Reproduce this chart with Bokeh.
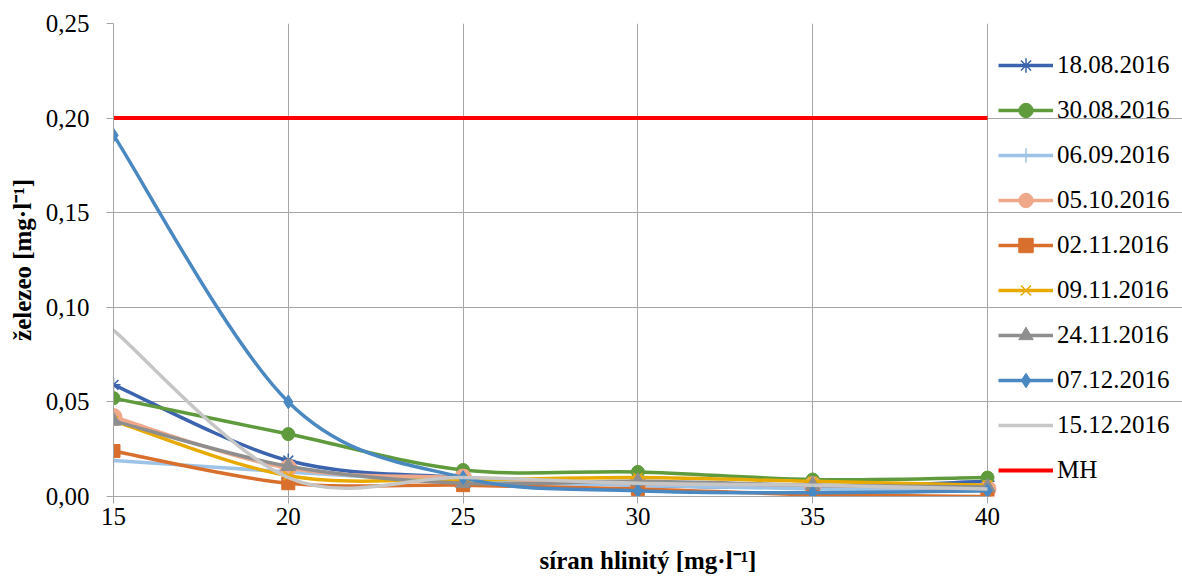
from bokeh.plotting import figure
from bokeh.models import (Legend, LegendItem, FixedTicker, CustomJSTickFormatter,
                          ColumnDataSource, Range1d)
from bokeh.embed import file_html
from bokeh.resources import INLINE

# ---- data ----
x_vals = [15, 20, 25, 30, 35, 40]
series_names = ["18.08.2016", "30.08.2016", "06.09.2016", "05.10.2016", "02.11.2016",
                "09.11.2016", "24.11.2016", "07.12.2016", "15.12.2016"]
s_18_08 = [0.059, 0.019, 0.010, 0.006, 0.005, 0.008]
s_30_08 = [0.052, 0.033, 0.014, 0.013, 0.009, 0.010]
s_06_09 = [0.019, 0.013, 0.008, 0.006, 0.004, 0.003]
s_05_10 = [0.042, 0.015, 0.010, 0.007, 0.006, 0.004]
s_02_11 = [0.024, 0.007, 0.006, 0.004, 0.001, 0.000]
s_09_11 = [0.040, 0.011, 0.009, 0.010, 0.008, 0.006]
s_24_11 = [0.040, 0.016, 0.007, 0.008, 0.006, 0.005]
s_07_12 = [0.191, 0.050, 0.010, 0.003, 0.002, 0.003]
s_15_12 = [0.088, 0.010, 0.010, 0.007, 0.006, 0.004]
mh_vals = [0.20, 0.20]
mh_x = [15, 40]
x_ticks = [15, 20, 25, 30, 35, 40]
y_ticks = [0.0, 0.05, 0.10, 0.15, 0.20, 0.25]

series_values = [s_18_08, s_30_08, s_06_09, s_05_10, s_02_11, s_09_11, s_24_11, s_07_12, s_15_12]
colors = ["#3C63AE", "#5F9B3C", "#9DC3E6", "#F0A88A", "#D96F2C", "#E9AA00", "#8E8E8E", "#4A88C2", "#C6C6C6"]
markers = ["asterisk", "circle", "cross", "circle", "square", "x", "triangle", "diamond", None]
msizes = [14, 13, 14, 17, 13, 13, 15, 14, 0]

FONT = "'Liberation Serif', 'Times New Roman', serif"

# plot frame spans the legend area too; axis/grid are bounded to the data area
LEFT, W = 113, 1182
x_end = 15 + (W - LEFT) * 25.0 / 874.0

p = figure(width=W, height=576, output_backend="svg", toolbar_location=None,
           x_range=Range1d(15, x_end), y_range=Range1d(0, 0.25),
           min_border_left=LEFT, min_border_right=0, min_border_top=23, min_border_bottom=77)
p.outline_line_color = None
p.background_fill_color = "white"

for ax, ticks in ((p.xaxis[0], x_ticks), (p.yaxis[0], y_ticks)):
    ax.ticker = FixedTicker(ticks=ticks)
    ax.axis_line_color = "#A6A6A6"
    ax.major_tick_line_color = "#A6A6A6"
    ax.minor_tick_line_color = None
    ax.major_tick_in = 0
    ax.major_tick_out = 7
    ax.major_label_text_font = FONT
    ax.major_label_text_font_size = "25px"
    ax.major_label_text_color = "black"
    ax.axis_label_text_font = FONT
    ax.axis_label_text_font_size = "25px"
    ax.axis_label_text_font_style = "bold"
    ax.axis_label_text_color = "black"

p.xaxis[0].bounds = (15, 40)
p.yaxis[0].formatter = CustomJSTickFormatter(code="return tick.toFixed(2).replace('.', ',');")
p.yaxis[0].major_label_standoff = 17
p.yaxis[0].axis_label = "železeo [mg·l⁻¹]"
p.yaxis[0].axis_label_standoff = 7
p.xaxis[0].major_label_standoff = 4
p.xaxis[0].axis_label = "síran hlinitý [mg·l⁻¹]"
p.xaxis[0].axis_label_standoff = 19

for g in (p.xgrid[0], p.ygrid[0]):
    g.grid_line_color = "#A6A6A6"
    g.grid_line_width = 1
p.xgrid[0].ticker = FixedTicker(ticks=x_ticks)
p.ygrid[0].ticker = FixedTicker(ticks=y_ticks)
p.ygrid[0].bounds = (15, 40)


def bezier_segments(xs, ys):
    n = len(xs)
    seg = dict(x0=[], y0=[], x1=[], y1=[], cx0=[], cy0=[], cx1=[], cy1=[])
    for i in range(n - 1):
        i0 = max(i - 1, 0)
        i3 = min(i + 2, n - 1)
        seg["x0"].append(xs[i]); seg["y0"].append(ys[i])
        seg["x1"].append(xs[i + 1]); seg["y1"].append(ys[i + 1])
        seg["cx0"].append(xs[i] + (xs[i + 1] - xs[i0]) / 6.0)
        seg["cy0"].append(ys[i] + (ys[i + 1] - ys[i0]) / 6.0)
        seg["cx1"].append(xs[i + 1] - (xs[i3] - xs[i]) / 6.0)
        seg["cy1"].append(ys[i + 1] - (ys[i3] - ys[i]) / 6.0)
    return seg


items = []
for name, vals, col, mk, ms in zip(series_names, series_values, colors, markers, msizes):
    src = ColumnDataSource(bezier_segments(x_vals, vals))
    r_line = p.bezier(x0="x0", y0="y0", x1="x1", y1="y1", cx0="cx0", cy0="cy0",
                      cx1="cx1", cy1="cy1", source=src, line_color=col, line_width=3.5)
    rends = [r_line]
    if mk is not None:
        if mk in ("asterisk", "cross", "x"):
            r_m = p.scatter(x_vals, vals, marker=mk, size=ms, line_color=col, line_width=1.5,
                            fill_color=col)
        else:
            r_m = p.scatter(x_vals, vals, marker=mk, size=ms, line_color=col, fill_color=col)
        rends.append(r_m)
    items.append(LegendItem(label=name, renderers=rends))

r_mh = p.line(mh_x, mh_vals, line_color="#FF0000", line_width=4)
items.append(LegendItem(label="MH", renderers=[r_mh]))

legend = Legend(items=items, location=(885, 8))
legend.label_text_font = FONT
legend.label_text_font_size = "25px"
legend.label_text_color = "black"
legend.glyph_width = 55
legend.glyph_height = 36
legend.label_height = 36
legend.spacing = 9
legend.padding = 5
legend.margin = 0
legend.label_standoff = 4
legend.border_line_color = None
legend.background_fill_alpha = 0
p.add_layout(legend, "center")

open("out.html", "w").write(file_html(p, INLINE))
